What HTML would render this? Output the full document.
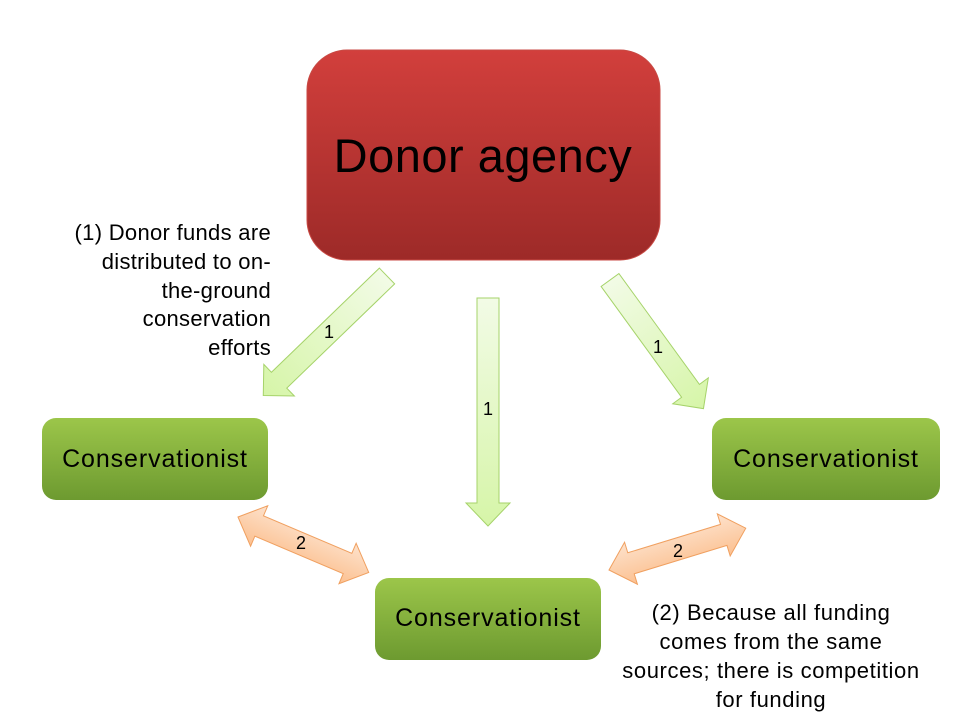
<!DOCTYPE html>
<html><head><meta charset="utf-8"><style>
body{margin:0;background:#fff;width:960px;height:720px;overflow:hidden}
</style></head><body>
<svg width="960" height="720" viewBox="0 0 960 720" xmlns="http://www.w3.org/2000/svg" font-family="Liberation Sans, DejaVu Sans, sans-serif">
<defs>
<linearGradient id="red" x1="0" y1="0" x2="0" y2="1"><stop offset="0" stop-color="#d23f3c"/><stop offset="1" stop-color="#9d2a28"/></linearGradient>
<linearGradient id="grn" x1="0" y1="0" x2="0" y2="1"><stop offset="0" stop-color="#9cc64a"/><stop offset="1" stop-color="#6d9a30"/></linearGradient>
<linearGradient id="lg" x1="0" y1="0" x2="1" y2="0"><stop offset="0" stop-color="#f2fbe6"/><stop offset="1" stop-color="#d6f5a8"/></linearGradient>
<linearGradient id="og" x1="0" y1="0" x2="0" y2="1"><stop offset="0" stop-color="#fde2cc"/><stop offset="1" stop-color="#fcc090"/></linearGradient>
</defs>
<rect x="307" y="50" width="353" height="210" rx="40" fill="url(#red)" stroke="#c84a44" stroke-width="1"/>
<text x="483" y="172" font-size="47" letter-spacing="0.5" text-anchor="middle" fill="#000">Donor agency</text>

<rect x="42" y="418" width="226" height="82" rx="14" fill="url(#grn)"/>
<rect x="712" y="418" width="228" height="82" rx="14" fill="url(#grn)"/>
<rect x="375" y="578" width="226" height="82" rx="14" fill="url(#grn)"/>
<g font-size="25" letter-spacing="0.9" text-anchor="middle">
<text x="155" y="467">Conservationist</text>
<text x="826" y="467">Conservationist</text>
<text x="488" y="626">Conservationist</text>
</g>

<g fill="url(#lg)" stroke="#a6d36a" stroke-width="1">
<path transform="translate(387,276) rotate(136)" d="M0,-11 L150,-11 L150,-22 L172,0 L150,22 L150,11 L0,11 Z"/>
<path transform="translate(488,298) rotate(90)" d="M0,-11 L205,-11 L205,-22 L228,0 L205,22 L205,11 L0,11 Z"/>
<path transform="translate(610,280) rotate(54)" d="M0,-11 L137,-11 L137,-22 L159,0 L137,22 L137,11 L0,11 Z"/>
</g>
<g fill="url(#og)" stroke="#f0a060" stroke-width="1">
<path transform="translate(238,517) rotate(23)" d="M0,0 L23,-22 L23,-11 L119,-11 L119,-22 L142,0 L119,22 L119,11 L23,11 L23,22 Z"/>
<path transform="translate(609,570) rotate(-17)" d="M0,0 L23,-22 L23,-11 L120,-11 L120,-22 L143,0 L120,22 L120,11 L23,11 L23,22 Z"/>
</g>
<g font-size="18" text-anchor="middle">
<text x="329" y="338">1</text>
<text x="488" y="415">1</text>
<text x="658" y="353">1</text>
<text x="301" y="549">2</text>
<text x="678" y="557">2</text>
</g>
<g font-size="22" letter-spacing="0.3" text-anchor="end">
<text x="271" y="240">(1) Donor funds are</text>
<text x="271" y="269">distributed to on-</text>
<text x="271" y="298">the-ground</text>
<text x="271" y="326">conservation</text>
<text x="271" y="355">efforts</text>
</g>
<g font-size="22" letter-spacing="0.6" text-anchor="middle">
<text x="771" y="620">(2) Because all funding</text>
<text x="771" y="649">comes from the same</text>
<text x="771" y="678">sources; there is competition</text>
<text x="771" y="707">for funding</text>
</g>
</svg>
</body></html>
